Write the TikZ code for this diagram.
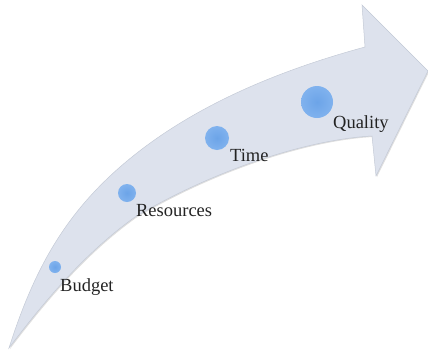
\documentclass[tikz,border=0pt]{standalone}
\usepackage{fontspec}
\setmainfont{Liberation Serif}
\usepackage{xcolor}
\usepackage{tikz}
\usetikzlibrary{shapes,calc,positioning,shadows}

\definecolor{bandfill}{RGB}{221,226,237}
\definecolor{bandedge}{RGB}{196,202,214}
\definecolor{dotin}{RGB}{108,164,232}
\definecolor{dotout}{RGB}{128,178,238}
\definecolor{lbltext}{RGB}{35,35,35}

\begin{document}
\begin{tikzpicture}[x=1pt,y=-1pt,
  dot/.style={circle, inner sep=0pt, minimum size=#1, shade, inner color=dotin, outer color=dotout},
  lbl/.style={inner sep=0pt, text=lbltext, font=\fontsize{18.5}{20}\selectfont}]

\useasboundingbox (0,0) rectangle (428,349);

\coordinate(tail) at (9,348);
\coordinate(up) at (120,167);
\coordinate(upj) at (365,47);
\coordinate(headtop) at (362,5);
\coordinate(tip) at (428,71);
\coordinate(headbot) at (376,176);
\coordinate(lowj) at (372,136);
\coordinate(low) at (135,217);

\fill[bandfill, draw=bandedge, line width=0.5pt, drop shadow={shadow xshift=1pt, shadow yshift=-1pt, opacity=0.25}]
  (tail) .. controls (33.6,270.9) and (63.5,216.4) .. (up)
  .. controls (187.8,107.8) and (276.2,71.1) .. (upj)
  -- (headtop) -- (tip) -- (headbot) -- (lowj)
  .. controls (300,140) and (205,175) .. (low)
  .. controls (86,252) and (46,299) .. (tail) -- cycle;

\node[dot=12pt] (budgetdot) at (55,267) {};
\node[dot=18pt] (resdot) at (127,193) {};
\node[dot=24pt] (timedot) at (217,138) {};
\node[dot=32pt] (qualdot) at (317,102) {};

\node[lbl, below right=7.3pt and 0.6pt of budgetdot](budget) {Budget};
\node[lbl, below right=4.5pt and 2.4pt of resdot](res) {Resources};
\node[lbl, below right=2pt and 4.3pt of timedot](time) {Time};
\node[lbl, below right=2.2pt and 4.5pt of qualdot](qual) {Quality};
\end{tikzpicture}
\end{document}
